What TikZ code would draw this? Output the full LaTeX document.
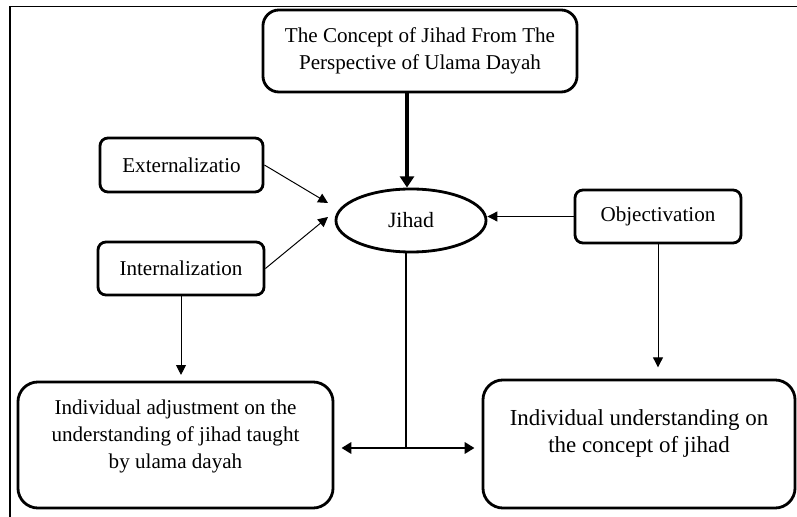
\documentclass[tikz,border=0pt]{standalone}
\usepackage{fontspec}
\setmainfont{Liberation Serif}
\usetikzlibrary{arrows.meta,shapes.geometric}
\begin{document}
\begin{tikzpicture}[
    x=0.025cm, y=-0.025cm,
    box/.style={rectangle, draw, line width=2pt, rounded corners=0.2cm, align=center, font=\fontsize{15}{19.5}\selectfont},
    bigbox/.style={box, rounded corners=0.5cm},
    arrow/.style={-{Triangle[length=7pt,width=7pt]}, line width=0.7pt},
    bigarrow/.style={-{Triangle[length=8pt,width=10pt]}, line width=2.4pt}
]
\useasboundingbox (0,0) rectangle (797,517);
% Frame
\draw[line width=1.4pt] (10,517) -- (10,6.5) -- (797,6.5);

% Boxes
\node[box, rounded corners=0.4cm, minimum width=7.85cm, minimum height=2.05cm] (concept) at (420,51) {The Concept of Jihad From The\\Perspective of Ulama Dayah};
\node[box, minimum width=4.075cm, minimum height=1.35cm] (ext) at (181.5,165) {Externalizatio};
\node[box, minimum width=4.15cm, minimum height=1.325cm] (int) at (181,268.5) {Internalization};
\node[box, minimum width=4.15cm, minimum height=1.325cm] (obj) at (658,216.5) {Objectivation};
\node[ellipse, draw, line width=2pt, minimum width=3.75cm, minimum height=1.575cm, font=\fontsize{15.5}{19}\selectfont] (jihad) at (411,220.5) {Jihad};
\node[bigbox, minimum width=7.875cm, minimum height=3.15cm, text height=50pt, text depth=15.9pt] (adjust) at (175.5,445) {Individual adjustment on the\\understanding of jihad taught\\by ulama dayah};
\node[bigbox, minimum width=7.8cm, minimum height=3.2cm, font=\fontsize{16.3}{19.7}\selectfont, text height=31.7pt, text depth=18.9pt] (understand) at (639,444) {Individual understanding on\\the concept of jihad};

% Arrows
\coordinate (inA) at (328,203);
\coordinate (inB) at (328,217);
\coordinate (split) at (406,448);
\draw[bigarrow] ([xshift=-0.1cm]concept.south -| jihad.north) -- ([xshift=-0.1cm]jihad.north);
\draw[arrow] (ext.east) -- (inA);
\draw[arrow] (int.east) -- (inB);
\draw[arrow] (obj.west) -- (obj.west -| jihad.east);
\draw[arrow, shorten >=4pt] (int.south) -- (int.south |- adjust.north);
\draw[arrow, shorten >=8pt] (obj.south) -- (obj.south |- understand.north);
\draw[line width=2pt] (jihad.south -| split) -- (split);
\draw[{Triangle[length=7pt,width=8pt]}-{Triangle[length=7pt,width=8pt]}, line width=2pt, shorten <=5pt, shorten >=5pt] (adjust.east |- split) -- (understand.west |- split);
\end{tikzpicture}
\end{document}
